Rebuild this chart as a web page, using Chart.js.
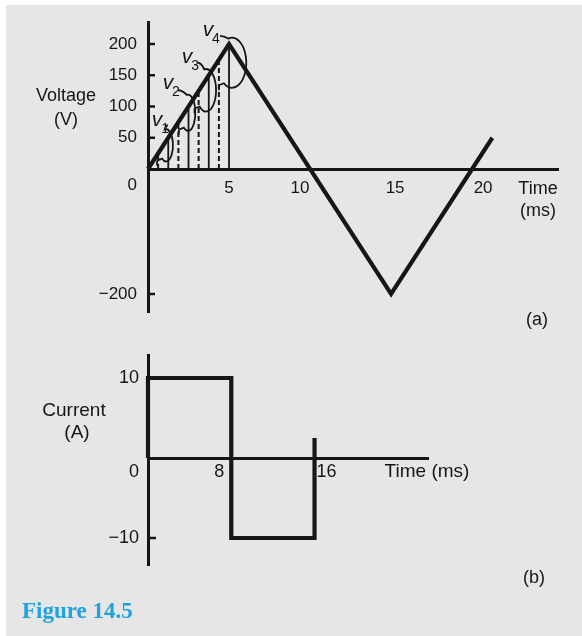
<!DOCTYPE html>
<html>
<head>
<meta charset="utf-8">
<script src="https://cdn.jsdelivr.net/npm/chart.js@4"></script>
<style>
  body { margin: 0; background: #fff; }
  #page { position: relative; width: 582px; height: 636px; overflow: hidden; }
  #panel { position: absolute; left: 6px; top: 5px; right: 0; bottom: 0; background: #e6e6e6; }
  canvas { position: absolute; left: 0; }
  #caption { position: absolute; left: 22px; top: 598px; font: bold 23px "Liberation Serif", "Times New Roman", serif; color: #1ea2e0; }
</style>
</head>
<body>
<div id="page">
  <div id="panel"></div>
  <canvas id="voltChart" width="582" height="340" style="top:0"></canvas>
  <canvas id="currChart" width="582" height="260" style="top:340px"></canvas>
  <div id="caption">Figure 14.5</div>
</div>
<script>
// (a) triangular voltage wave, ms / V
const voltTimes = [0, 5, 15, 21.25];
const voltValues = [0, 200, -200, 50];
// strips under the rising edge
const stripTimes = [1.25, 2.5, 3.75, 5];
const stripVolts = [50, 100, 150, 200];
const midTimes = [0.625, 1.875, 3.125, 4.375];
const midVolts = [25, 75, 125, 175];
const loopLabels = ["1", "2", "3", "4"];
const voltTicksX = [5, 10, 15, 20];
const voltTicksY = [-200, 50, 100, 150, 200];

// (b) square current wave, ms / A
const currTimes = [0, 0, 8, 8, 16, 16];
const currValues = [0, 10, 10, -10, -10, 2.5];
const currTicksX = [8, 16];
const currTicksY = [-10, 10];

const ink = "#161616";
const sans = '"Liberation Sans", Arial, Helvetica, sans-serif';

function toPoints(xs, ys) {
  return xs.map((x, i) => ({ x: x, y: ys[i] }));
}

// vertical segments from the time axis up to each value, split by gaps
function verticals(ts, vs) {
  const pts = [];
  ts.forEach((t, i) => {
    pts.push({ x: t, y: 0 }, { x: t, y: vs[i] }, { x: t, y: null });
  });
  return pts;
}

function fmt(v) {
  return v < 0 ? "\u2212" + Math.abs(v) : String(v);
}

const axisDecor = {
  id: "axisDecor",
  afterDraw(chart, args, o) {
    const ctx = chart.ctx;
    const xs = chart.scales.x, ys = chart.scales.y;
    const x0 = xs.getPixelForValue(0), y0 = ys.getPixelForValue(0);
    ctx.save();
    ctx.strokeStyle = ink;
    ctx.fillStyle = ink;
    ctx.lineWidth = 2.5;
    ctx.font = o.numFont;
    ctx.textAlign = "right";
    ctx.textBaseline = "middle";
    ys.ticks.forEach(tk => {
      const y = ys.getPixelForValue(tk.value);
      ctx.beginPath();
      ctx.moveTo(x0, y);
      ctx.lineTo(x0 + o.tickLen, y);
      ctx.stroke();
      ctx.fillText(fmt(tk.value), x0 - o.labelGap, y);
    });
    ctx.fillText("0", x0 - o.labelGap, y0 + o.zeroDrop);
    ctx.textAlign = "center";
    xs.ticks.forEach(tk => {
      const x = xs.getPixelForValue(tk.value) + (o.xShift[tk.value] || 0);
      ctx.fillText(String(tk.value), x, y0 + o.xDrop);
    });
    o.texts.forEach(t => {
      ctx.font = (t[3] || o.textSize) + "px " + sans;
      ctx.fillText(t[0], t[1], t[2]);
    });
    ctx.restore();
  }
};

// the v1..v4 loops with their labels
const loopDecor = {
  id: "loopDecor",
  afterDatasetsDraw(chart, args, o) {
    if (!o.loops) return;
    const ctx = chart.ctx;
    const xs = chart.scales.x, ys = chart.scales.y;
    const px = t => xs.getPixelForValue(t), py = v => ys.getPixelForValue(v);
    ctx.save();
    ctx.strokeStyle = ink;
    ctx.fillStyle = ink;
    ctx.lineWidth = 1.8;
    o.loops.forEach((lp, i) => {
      const cx = px(lp.c[0]), cy = py(lp.c[1]);
      const rx = px(lp.c[0] + lp.r[0]) - cx, ry = cy - py(lp.c[1] + lp.r[1]);
      const a0 = lp.a[0] * Math.PI / 180, a1 = lp.a[1] * Math.PI / 180;
      const sx = cx + rx * Math.cos(a0), sy = cy + ry * Math.sin(a0);
      const lx = px(lp.lead[0]), ly = py(lp.lead[1]);
      ctx.beginPath();
      ctx.moveTo(lx, ly);
      ctx.quadraticCurveTo((lx + sx) / 2, ly, sx, sy);
      ctx.ellipse(cx, cy, rx, ry, 0, a0, a1);
      const ex = cx + rx * Math.cos(a1), ey = cy + ry * Math.sin(a1);
      ctx.lineTo(ex - 5, ey + 2);
      ctx.stroke();
      ctx.beginPath();
      ctx.moveTo(ex - 5, ey + 2);
      ctx.lineTo(ex - 5, ey + 7);
      ctx.stroke();
      const tx = px(lp.lab[0]), ty = py(lp.lab[1]);
      ctx.textAlign = "center";
      ctx.textBaseline = "middle";
      ctx.font = "italic 21px " + sans;
      ctx.fillText("v", tx, ty);
      ctx.font = "14px " + sans;
      ctx.fillText(loopLabels[i], tx + 8, ty + 9);
    });
    ctx.restore();
  }
};

function scaleOpts(min, max, ticks, pos) {
  return {
    type: "linear",
    min: min,
    max: max,
    position: pos,
    afterBuildTicks: s => { s.ticks = ticks.map(v => ({ value: v })); },
    ticks: { display: false },
    grid: { display: false, drawTicks: false },
    border: { display: true, width: 3, color: ink }
  };
}

function lineSet(points, width, dash) {
  return {
    data: points,
    borderColor: ink,
    borderWidth: width,
    borderDash: dash || [],
    borderJoinStyle: "miter",
    pointRadius: 0,
    tension: 0,
    spanGaps: false,
    clip: false
  };
}

new Chart(document.getElementById("voltChart"), {
  type: "line",
  data: {
    datasets: [
      lineSet(verticals(midTimes, midVolts), 2, [5, 3]),
      lineSet(verticals(stripTimes, stripVolts), 1.8),
      lineSet(toPoints(voltTimes, voltValues), 4.2)
    ]
  },
  options: {
    responsive: false,
    animation: false,
    layout: { padding: { left: 148, top: 22, right: 24, bottom: 28 } },
    scales: {
      x: scaleOpts(0, 25.3, voltTicksX, { y: 0 }),
      y: scaleOpts(-228.8, 235.2, voltTicksY, { x: 0 })
    },
    plugins: {
      legend: { display: false },
      tooltip: { enabled: false },
      axisDecor: {
        numFont: "17px " + sans,
        textSize: 18,
        tickLen: 7,
        labelGap: 11,
        zeroDrop: 16,
        xDrop: 19,
        xShift: { 10: -10, 15: 4, 20: 11 },
        texts: [["Voltage", 66, 96], ["(V)", 66, 120], ["Time", 538, 189], ["(ms)", 538, 211], ["(a)", 537, 320]]
      },
      loopDecor: {
        loops: [
          { c: [1.11, 38], r: [0.43, 26], a: [-100, 125], lead: [1.23, 70], lab: [0.56, 78] },
          { c: [2.47, 90], r: [0.45, 29], a: [-100, 125], lead: [1.85, 126], lab: [1.23, 138] },
          { c: [3.58, 126], r: [0.62, 34], a: [-100, 130], lead: [3.09, 170], lab: [2.41, 179] },
          { c: [5.185, 170], r: [0.88, 40], a: [-105, 125], lead: [4.44, 213], lab: [3.7, 222] }
        ]
      }
    }
  },
  plugins: [axisDecor, loopDecor]
});

new Chart(document.getElementById("currChart"), {
  type: "line",
  data: {
    datasets: [lineSet(toPoints(currTimes, currValues), 4.2)]
  },
  options: {
    responsive: false,
    animation: false,
    layout: { padding: { left: 148, top: 15, right: 154, bottom: 35 } },
    scales: {
      x: scaleOpts(0, 26.9, currTicksX, { y: 0 }),
      y: scaleOpts(-13.375, 12.875, currTicksY, { x: 0 })
    },
    plugins: {
      legend: { display: false },
      tooltip: { enabled: false },
      axisDecor: {
        numFont: "18px " + sans,
        textSize: 19,
        tickLen: 8,
        labelGap: 9,
        zeroDrop: 14,
        xDrop: 14,
        xShift: { 8: -12, 16: 12 },
        texts: [["Current", 74, 71], ["(A)", 77, 93], ["Time (ms)", 427, 132], ["(b)", 534, 238, 18]]
      }
    }
  },
  plugins: [axisDecor]
});
</script>
</body>
</html>
